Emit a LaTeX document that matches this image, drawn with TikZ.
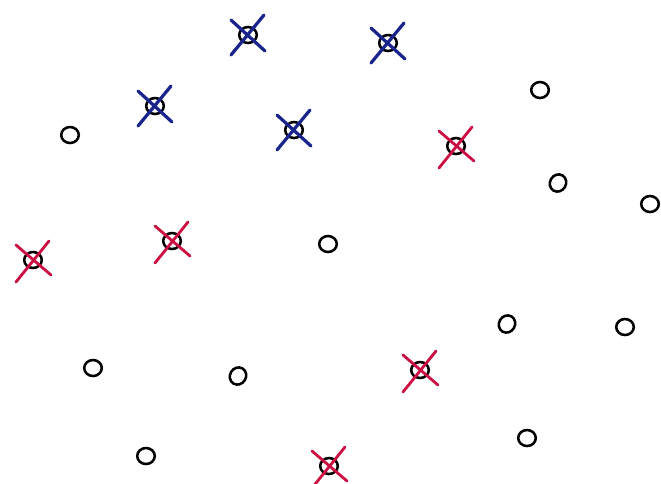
\documentclass[tikz,border=0pt]{standalone}
\usepackage{xcolor}
\usepackage{tikz}
\usetikzlibrary{shapes.geometric}
\definecolor{inkblue}{rgb}{0.10,0.14,0.55}
\definecolor{inkred}{rgb}{0.80,0.06,0.26}

\begin{document}
\begin{tikzpicture}[x=0.025cm,y=-0.025cm,
    pt/.style={ellipse,draw=black,line width=1.8pt,minimum width=0.44cm,minimum height=0.40cm,inner sep=0pt},
    bluex/.style={draw=inkblue,line width=2.3pt,line cap=round},
    redx/.style={draw=inkred,line width=2pt,line cap=round}]
        \useasboundingbox (0,0) rectangle (661,483);
        % crossed out in blue
        \node[pt] (b1) at (248,35) {};
        \node[pt] (b2) at (388,43) {};
        \node[pt] (b3) at (155,106) {};
        \node[pt] (b4) at (294,130) {};
        % crossed out in red
        \node[pt] (r1) at (456,146) {};
        \node[pt] (r2) at (33,260) {};
        \node[pt] (r3) at (172,241) {};
        \node[pt] (r4) at (420,370) {};
        \node[pt] (r5) at (329,466) {};
        % left as they are
        \node[pt] (p1) at (540,90) {};
        \node[pt] (p2) at (70,135) {};
        \node[pt,rotate=60] (p3) at (558,183) {};
        \node[pt] (p4) at (650,204) {};
        \node[pt] (p5) at (328,244) {};
        \node[pt,rotate=60] (p6) at (507,324) {};
        \node[pt] (p7) at (625,327) {};
        \node[pt] (p8) at (93,368) {};
        \node[pt,rotate=60] (p9) at (238,376) {};
        \node[pt] (p10) at (527,438) {};
        \node[pt] (p11) at (146,456) {};
        % the crosses
        \foreach \n in {b1,b2,b3,b4} {
          \draw[bluex] ([shift={(-17,-15)}]\n.center) -- ([shift={(17,16)}]\n.center);
          \draw[bluex] ([shift={(16,-20)}]\n.center) -- ([shift={(-17,20)}]\n.center);
        }
        \foreach \n in {r1,r2,r3,r4,r5} {
          \draw[redx] ([shift={(-17,-15)}]\n.center) -- ([shift={(18,15)}]\n.center);
          \draw[redx] ([shift={(16,-19)}]\n.center) -- ([shift={(-17,22)}]\n.center);
        }
      \end{tikzpicture}
\end{document}
